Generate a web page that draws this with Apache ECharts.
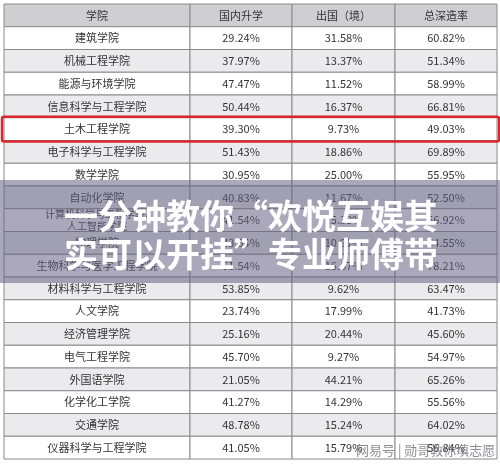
<!DOCTYPE html>
<html><head><meta charset="utf-8">
<script src="https://cdn.jsdelivr.net/npm/echarts@6/dist/echarts.min.js"></script>
<style>html,body{margin:0;padding:0;background:#fff}#c{width:500px;height:465px}</style>
</head><body><div id="c"></div>
<script>
const headers = ['学院','国内升学','出国（境）','总深造率'];
const colleges = ['建筑学院','机械工程学院','能源与环境学院','信息科学与工程学院','土木工程学院','电子科学与工程学院','数学学院','自动化学院','计算机科学与工程学院/\n人工智能学院','物理学院','生物科学与医学工程学院','材料科学与工程学院','人文学院','经济管理学院','电气工程学院','外国语学院','化学化工学院','交通学院','仪器科学与工程学院'];
const domestic = ['29.24%','37.97%','47.47%','50.44%','39.30%','51.43%','30.95%','40.83%','41.54%','43.64%','61.54%','53.85%','23.74%','25.16%','45.70%','21.05%','41.27%','48.78%','41.05%'];
const abroad = ['31.58%','13.37%','11.52%','16.37%','9.73%','18.86%','25.00%','11.67%','15.38%','10.91%','16.67%','9.62%','17.99%','20.44%','9.27%','44.21%','14.29%','15.24%','15.79%'];
const total = ['60.82%','51.34%','58.99%','66.81%','49.03%','69.89%','55.95%','52.50%','56.92%','54.55%','78.21%','63.47%','41.73%','45.60%','54.97%','65.26%','55.56%','64.02%','56.84%'];
const highlightRow = 4;

const edges = [0,186,288,391,493];
const rows = [headers].concat(colleges.map((c,i)=>[c,domestic[i],abroad[i],total[i]]));
const cells = [];
rows.forEach((r,ri)=>r.forEach((t,ci)=>cells.push([ci,ri,t])));
const nRows = rows.length;

const chart = echarts.init(document.getElementById('c'));
chart.setOption({
  animation:false,
  grid:{left:4,right:3,top:4,bottom:6},
  xAxis:{type:'value',min:0,max:493,show:false},
  yAxis:{type:'value',min:0,max:nRows,inverse:true,show:false},
  series:[{
    type:'custom',
    data:cells,
    encode:{x:0,y:1},
    renderItem:function(params,api){
      const ci=api.value(0), ri=api.value(1);
      const t=cells[params.dataIndex][2];
      const p0=api.coord([edges[ci],ri]), p1=api.coord([edges[ci+1],ri+1]);
      const fill = ri===0?'#cfcfd2':(ri%2===1?'#ffffff':'#ebebee');
      const multi = t.indexOf('\n')>=0;
      return {type:'group',children:[
        {type:'rect',shape:{x:p0[0],y:p0[1],width:p1[0]-p0[0],height:p1[1]-p0[1]},
         style:{fill:fill,stroke:'#8a8a8a',lineWidth:1}},
        {type:'text',style:{text:t,x:(p0[0]+p1[0])/2,y:(p0[1]+p1[1])/2,align:'center',verticalAlign:'middle',
          fill:'#333',font:(multi?'10px':'11px')+' "Noto Sans CJK SC", sans-serif',lineHeight:12}}
      ]};
    }
  },{
    type:'custom',
    data:[[0,highlightRow+1]],
    encode:{x:0,y:1},
    z:5,
    renderItem:function(params,api){
      const r=api.value(1);
      const p0=api.coord([0,r]), p1=api.coord([493,r+1]);
      return {type:'rect',shape:{x:p0[0]-2,y:p0[1]-1,width:p1[0]-p0[0]+4,height:p1[1]-p0[1]+2,r:2},
        style:{fill:'none',stroke:'#d8262c',lineWidth:2.5}};
    }
  }],
  graphic:[
    {type:'rect',z:10,shape:{x:0,y:180,width:500,height:103},style:{fill:'rgba(100,96,130,0.55)'}},
    {type:'text',z:11,style:{text:'一分钟教你“欢悦互娱其',x:251,y:216,align:'center',verticalAlign:'middle',
      fill:'#fff',font:'bold 34px "Noto Sans CJK SC", sans-serif',shadowColor:'rgba(0,0,0,0.4)',shadowBlur:3}},
    {type:'text',z:11,style:{text:'实可以开挂”专业师傅带',x:251,y:254,align:'center',verticalAlign:'middle',
      fill:'#fff',font:'bold 34px "Noto Sans CJK SC", sans-serif',shadowColor:'rgba(0,0,0,0.4)',shadowBlur:3}},
    {type:'text',z:11,style:{text:'网易号 | 勋哥教你填志愿',x:356,y:450,verticalAlign:'middle',
      fill:'rgba(120,120,130,0.85)',font:'13px "Noto Sans CJK SC", sans-serif'}}
  ]
});
</script></body></html>
